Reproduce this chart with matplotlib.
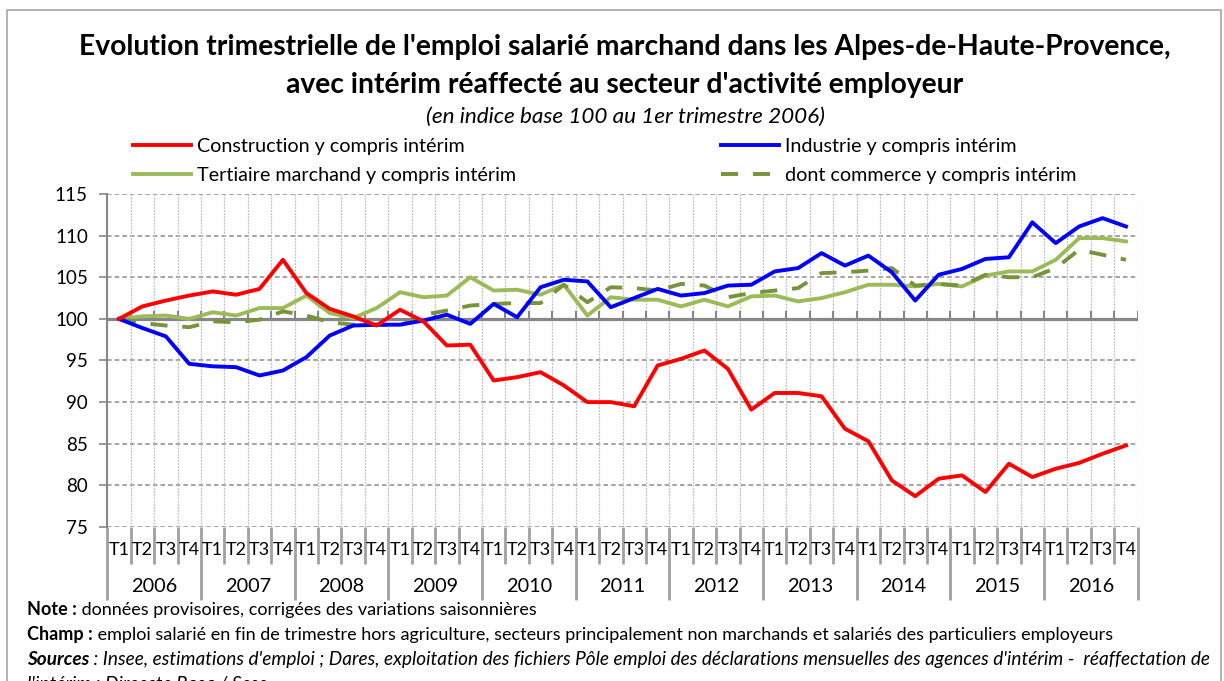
import matplotlib
matplotlib.use("Agg")
import matplotlib.pyplot as plt
from matplotlib.patches import Rectangle

# ---------------- data ----------------
years = ["2006", "2007", "2008", "2009", "2010", "2011", "2012", "2013", "2014", "2015", "2016"]
quarters = ["T1", "T2", "T3", "T4"]

construction = [100, 101.5, 102.2, 102.8, 103.3, 102.9, 103.6, 107.1, 103.1, 101.2, 100.3, 99.2,
                101.1, 99.7, 96.8, 96.9, 92.6, 93.0, 93.6, 92.0, 90.0, 90.0, 89.5, 94.4,
                95.2, 96.2, 94.0, 89.1, 91.1, 91.1, 90.7, 86.8, 85.3, 80.6, 78.7, 80.8,
                81.2, 79.2, 82.6, 81.0, 82.0, 82.7, 83.8, 84.8]
industrie = [100, 98.9, 97.9, 94.6, 94.3, 94.2, 93.2, 93.8, 95.4, 98.0, 99.2, 99.3,
             99.3, 99.8, 100.5, 99.4, 101.8, 100.2, 103.8, 104.7, 104.5, 101.4, 102.5, 103.6,
             102.8, 103.1, 104.0, 104.1, 105.7, 106.1, 107.9, 106.4, 107.6, 105.6, 102.2, 105.3,
             106.0, 107.2, 107.4, 111.6, 109.1, 111.1, 112.1, 111.1]
tertiaire = [100, 100.3, 100.4, 100.0, 100.8, 100.4, 101.3, 101.3, 102.8, 100.7, 100.1, 101.3,
             103.2, 102.6, 102.8, 105.0, 103.4, 103.5, 102.9, 104.1, 100.4, 102.6, 102.3, 102.3,
             101.5, 102.3, 101.5, 102.7, 102.8, 102.1, 102.5, 103.2, 104.1, 104.1, 103.9, 104.2,
             103.9, 105.2, 105.7, 105.7, 107.1, 109.7, 109.7, 109.3]
commerce = [100, 99.5, 99.2, 99.0, 99.7, 99.6, 99.9, 100.9, 100.4, 99.6, 99.3, 99.3,
            99.2, 100.5, 101.0, 101.6, 101.8, 101.9, 101.9, 104.1, 102.0, 103.8, 103.7, 103.4,
            104.2, 104.0, 102.6, 103.1, 103.4, 103.7, 105.5, 105.6, 105.8, 106.1, 104.0, 104.2,
            104.0, 105.3, 105.0, 105.0, 106.1, 108.3, 107.7, 107.1]

series_labels = ["Construction y compris intérim", "Industrie y compris intérim",
                 "Tertiaire marchand y compris intérim", "dont commerce y compris intérim"]
yticks = [75, 80, 85, 90, 95, 100, 105, 110, 115]

title1 = "Evolution trimestrielle de l'emploi salarié marchand dans les Alpes-de-Haute-Provence,"
title2 = "avec intérim réaffecté au secteur d'activité employeur"
subtitle = "(en indice base 100 au 1er trimestre 2006)"

# ---------------- figure ----------------
plt.rcParams["font.family"] = ["Lato", "DejaVu Sans"]
W, H = 1224, 681
fig = plt.figure(figsize=(W / 100, H / 100), dpi=100)


def fx(x):
    return x / W


def fy(y):
    return 1 - y / H


# outer border
fig.patches.append(Rectangle((fx(7), fy(700)), fx(1221) - fx(7), fy(10) - fy(700),
                             transform=fig.transFigure, fill=False, edgecolor="#A6A6A6", lw=1.2))

ax_l, ax_r, ax_t, ax_b = 107.3, 1137.7, 194, 527
ax = fig.add_axes([fx(ax_l), fy(ax_b), fx(ax_r) - fx(ax_l), fy(ax_t) - fy(ax_b)])

n = len(construction)
x = list(range(n))
ax.set_xlim(-0.5, n - 0.5)
ax.set_ylim(75, 115)

# gridlines
for yv in yticks:
    if yv != 100:
        ax.axhline(yv, color="#8C8C8C", lw=1.1, ls=(0, (3, 2)), zorder=1)
for b in range(n):
    ax.axvline(b + 0.5, color="#BFBFBF", lw=0.9, ls=(0, (1.5, 1)), zorder=1)

# category axis at 100
ax.axhline(100, color="#868686", lw=2.3, zorder=2)
ax.vlines([b + 0.5 for b in range(-1, n)], 99.8, 100.9, color="#868686", lw=1.5, zorder=2)

col_c, col_i, col_t, col_d = "#FF0000", "#0000FF", "#9BBB59", "#77933C"
lw = 2.8
l_t, = ax.plot(x, tertiaire, color=col_t, lw=lw, zorder=3)
l_d, = ax.plot(x, commerce, color=col_d, lw=lw, zorder=4, dashes=(4.4, 3.8))
l_i, = ax.plot(x, industrie, color=col_i, lw=lw, zorder=5)
l_c, = ax.plot(x, construction, color=col_c, lw=lw, zorder=6)

# spines / ticks
for s in ["top", "right", "bottom"]:
    ax.spines[s].set_visible(False)
ax.spines["left"].set_color("#868686")
ax.spines["left"].set_linewidth(1.5)
ax.set_yticks(yticks)
ax.set_yticklabels([str(v) for v in yticks], fontsize=13.5)
ax.tick_params(axis="y", length=5.5, width=1.2, color="#868686", pad=8.5)
ax.set_xticks([])

# category labels below
trans = ax.get_xaxis_transform()
h_ax = ax_b - ax_t
for i in range(n):
    ax.text(i, -23 / h_ax, quarters[i % 4], transform=trans, ha="center", va="center",
            fontsize=13, clip_on=False)
for k, yr in enumerate(years):
    ax.text(4 * k + 1.5, -60 / h_ax, yr, transform=trans, ha="center", va="center",
            fontsize=14.3, clip_on=False)
for b in range(n + 1):
    bx = b - 0.5
    low = -73 / h_ax if b % 4 == 0 else -37 / h_ax
    ax.plot([bx, bx], [0, low], transform=trans, color="#A0A0A0", lw=2.0, clip_on=False,
            solid_capstyle="butt")

# titles
fig.text(fx(625), fy(47), title1, ha="center", va="center", fontsize=20.3, fontweight="bold")
fig.text(fx(625), fy(85), title2, ha="center", va="center", fontsize=20.3, fontweight="bold")
fig.text(fx(625), fy(117), subtitle, ha="center", va="center", fontsize=16.2, style="italic")

# legend: two columns placed independently
LFS = 14.2
common = dict(loc="upper left", frameon=False, fontsize=LFS, handlelength=2.92,
              handletextpad=0.3, labelspacing=0.62, borderpad=0, borderaxespad=0)
leg1 = fig.legend([l_c, l_t], [series_labels[0], series_labels[2]],
                  bbox_to_anchor=(fx(133), fy(138)), **common)
leg2 = fig.legend([l_i, l_d], [series_labels[1], series_labels[3]],
                  bbox_to_anchor=(fx(721), fy(138)), **common)

# notes
NFS = 13.0
IFS = 13.7


def mixed(xp, yp, bold, rest, italic=False):
    fs = IFS if italic else NFS
    st = "italic" if italic else "normal"
    t1 = fig.text(fx(xp), fy(yp), bold, fontsize=fs, fontweight="bold", style=st, va="baseline")
    fig.add_artist(plt.Annotation(rest, xy=(1, 0), xycoords=t1, va="bottom", ha="left",
                                  fontsize=fs, style=st, annotation_clip=False))


mixed(27, 615, "Note :", " données provisoires, corrigées des variations saisonnières")
mixed(27, 640, "Champ :", " emploi salarié en fin de trimestre hors agriculture, secteurs principalement non marchands et salariés des particuliers employeurs")
mixed(27, 665, "Sources", " : Insee, estimations d'emploi ; Dares, exploitation des fichiers Pôle emploi des déclarations mensuelles des agences d'intérim -  réaffectation de", italic=True)
fig.text(fx(27), fy(690), "l'intérim : Direccte Paca / Sese", fontsize=IFS, style="italic", va="baseline")

fig.savefig("out.png", dpi=100)
